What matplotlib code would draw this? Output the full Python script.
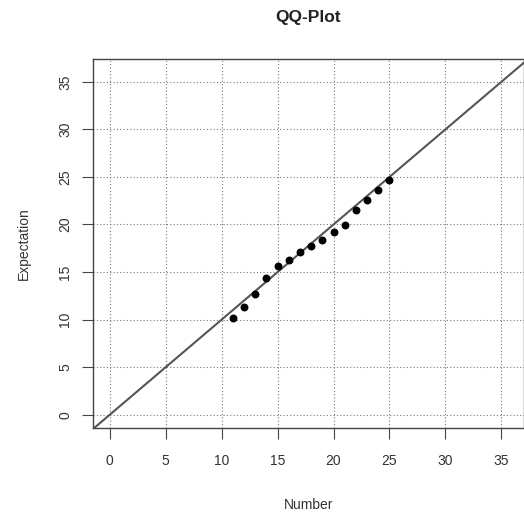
import matplotlib
matplotlib.use("Agg")
import matplotlib.pyplot as plt
import numpy as np

plt.rcParams['font.family'] = ['Liberation Sans', 'DejaVu Sans']

number = [11, 12, 13, 14, 15, 16, 17, 18, 19, 20, 21, 22, 23, 24, 25]
expectation = [10.2, 11.35, 12.7, 14.4, 15.6, 16.3, 17.1, 17.7, 18.4, 19.2,
               19.9, 21.5, 22.55, 23.6, 24.7]
ticks = [0, 5, 10, 15, 20, 25, 30, 35]

fig = plt.figure(figsize=(5.24, 5.19), dpi=100)
ax = fig.add_axes([0.1775, 0.1753, 0.822, 0.711])

ax.set_xlim(-1.5, 37)
ax.set_ylim(-1.4, 37.4)

# grid like R's grid()
for t in ticks:
    ax.axvline(t, color='#777777', lw=0.8, ls=(0, (1, 2)), zorder=1)
    ax.axhline(t, color='#777777', lw=0.8, ls=(0, (1, 2)), zorder=1)

ax.axline((0, 0), slope=1, color='#555555', lw=1.5, zorder=2)
ax.scatter(number, expectation, s=22, color='black', zorder=3)

ax.set_xticks(ticks)
ax.set_yticks(ticks)
ax.tick_params(direction='out', length=8, width=0.8, color='#444444',
               labelsize=10, labelcolor='#333333')
ax.tick_params(axis='x', pad=11)
ax.tick_params(axis='y', pad=7)
for lbl in ax.get_yticklabels():
    lbl.set_rotation(90)
    lbl.set_va('center')
for s in ax.spines.values():
    s.set_color('#444444')
    s.set_linewidth(1.0)

ax.set_xlabel('Number', fontsize=10, color='#333333', labelpad=21)
ax.set_ylabel('Expectation', fontsize=10, color='#333333', labelpad=20)
ax.set_title('QQ-Plot', fontsize=12.5, fontweight='bold', color='#222222', pad=27)

fig.savefig('out.png', dpi=100)
